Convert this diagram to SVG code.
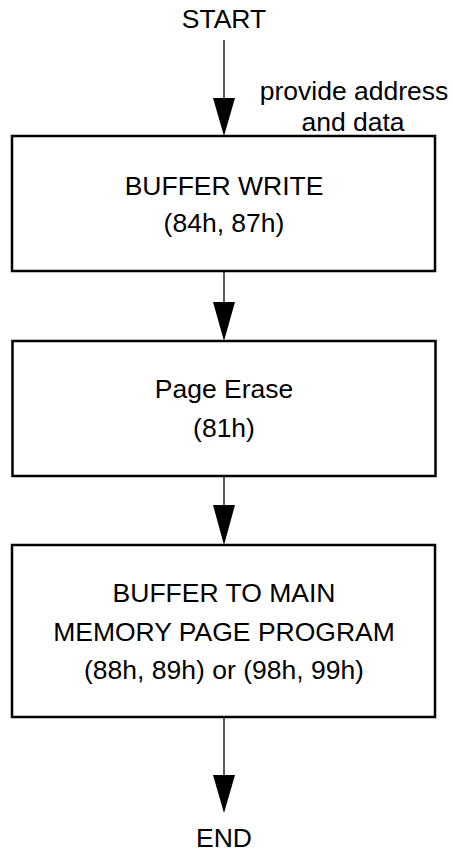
<svg xmlns="http://www.w3.org/2000/svg" width="453" height="854" viewBox="0 0 453 854">
<style>
.box{fill:#fff;stroke:#000;stroke-width:2.5}
.t{font-family:"Liberation Sans",Arial,sans-serif;font-size:26.5px;fill:#000;text-anchor:middle}
.c{stroke:#000;stroke-width:1.3;fill:none}
.ah{fill:#000}
</style>
<rect width="453" height="854" fill="#fff"/>
<g id="connectors">
<line class="c" x1="224" y1="40" x2="224" y2="98"/>
<polygon class="ah" points="213,98 235,98 224,136"/>
<line class="c" x1="224" y1="271" x2="224" y2="302"/>
<polygon class="ah" points="213,302 235,302 224,341"/>
<line class="c" x1="224" y1="476" x2="224" y2="505"/>
<polygon class="ah" points="213,505 235,505 224,545"/>
<line class="c" x1="224" y1="717" x2="224" y2="775"/>
<polygon class="ah" points="213,775 235,775 224,813"/>
</g>
<g id="start"><text class="t" x="224" y="28">START</text></g>
<g id="label"><text class="t" x="354" y="100">provide address</text><text class="t" x="353" y="131">and data</text></g>
<g id="buffer-write">
<rect class="box" x="12" y="136" width="423" height="135"/>
<text class="t" x="224" y="195">BUFFER WRITE</text>
<text class="t" x="224" y="232">(84h, 87h)</text>
</g>
<g id="page-erase">
<rect class="box" x="12.5" y="341" width="423" height="135"/>
<text class="t" x="224" y="398">Page Erase</text>
<text class="t" x="224" y="437">(81h)</text>
</g>
<g id="program">
<rect class="box" x="12" y="545" width="423" height="172"/>
<text class="t" x="224" y="602">BUFFER TO MAIN</text>
<text class="t" x="224" y="641">MEMORY PAGE PROGRAM</text>
<text class="t" x="224" y="679">(88h, 89h) or (98h, 99h)</text>
</g>
<g id="end"><text class="t" x="224" y="847">END</text></g>
</svg>
